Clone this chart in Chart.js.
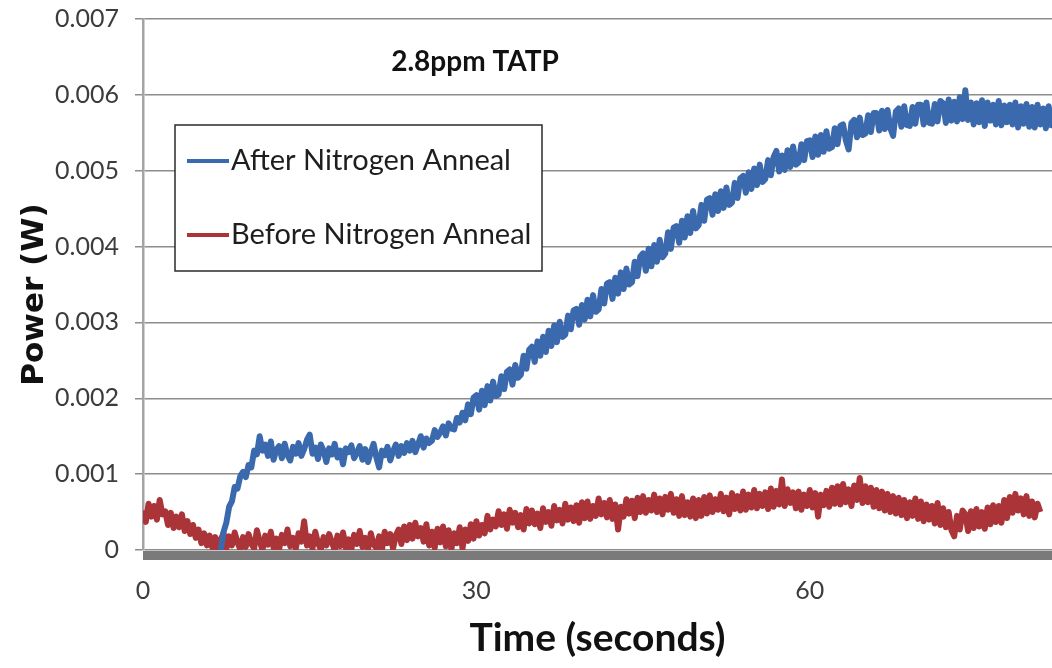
<!DOCTYPE html>
<html>
<head>
<meta charset="utf-8">
<title>2.8ppm TATP</title>
<script src="https://cdn.jsdelivr.net/npm/chart.js@4.4.0/dist/chart.umd.min.js"></script>
<style>
  html, body { margin: 0; padding: 0; background: #fff; }
</style>
</head>
<body>
<canvas id="powerChart" width="1052" height="668"></canvas>
<script>
// detector sample clock (seconds)
const sampleStep = 0.25;
const afterStart = 7.0;
const beforeStart = 0.0;

const seriesLabels = ['After Nitrogen Anneal', 'Before Nitrogen Anneal'];
const xTicks = [0, 30, 60];
const yTicks = ['0', '0.001', '0.002', '0.003', '0.004', '0.005', '0.006', '0.007'];

// readings in units of 10 µW, one per sampleStep, 4 per row (1 s)
const afterAnneal = [
    0,  24,  36,  57,   64,  83,  81,  97,  103,  96, 112, 109,  131, 126, 150, 131,   // 7 - 10
  139, 124, 143, 119,  132, 137, 121, 140,  125, 118, 136, 127,  141, 124, 133, 145,   // 11 - 14
  152, 127, 135, 120,  139, 131, 116, 134,  126, 140, 122, 131,  113, 134, 129, 138,   // 15 - 18
  121, 128, 137, 119,  133, 116, 129, 140,  122, 109, 131, 125,  136, 118, 130, 139,   // 19 - 22
  124, 137, 128, 141,  131, 144, 129, 139,  150, 135, 147, 141,  144, 158, 149, 155,   // 23 - 26
  163, 151, 167, 160,  159, 174, 168, 181,  171, 192, 179, 201,  204, 185, 210, 191,   // 27 - 30
  216, 197, 222, 203,  205, 229, 212, 235,  238, 218, 244, 227,  231, 256, 239, 264,   // 31 - 34
  268, 248, 275, 256,  281, 261, 289, 269,  296, 274, 301, 281,  284, 309, 291, 316,   // 35 - 38
  318, 297, 323, 304,  330, 308, 336, 314,  317, 344, 325, 351,  353, 331, 359, 338,   // 39 - 42
  366, 344, 371, 350,  353, 380, 361, 387,  391, 368, 397, 374,  402, 380, 409, 386,   // 43 - 46
  391, 419, 397, 425,  427, 405, 434, 412,  440, 418, 447, 424,  428, 455, 434, 462,   // 47 - 50
  464, 442, 469, 447,  473, 451, 478, 455,  458, 484, 464, 490,  493, 471, 498, 476,   // 51 - 54
  503, 481, 508, 485,  489, 514, 494, 518,  526, 499, 520, 501,  527, 505, 532, 508,   // 55 - 58
  511, 535, 514, 539,  540, 518, 545, 521,  547, 525, 552, 529,  531, 556, 535, 559,   // 59 - 62
  561, 540, 528, 563,  567, 544, 570, 547,  549, 573, 551, 576,  576, 553, 579, 555,   // 63 - 66
  580, 556, 546, 578,  582, 558, 585, 560,  559, 584, 562, 587,  587, 561, 590, 563,   // 67 - 70
  562, 588, 565, 592,  589, 563, 594, 566,  591, 565, 597, 568,  606, 567, 590, 561,   // 71 - 74
  589, 564, 593, 559,  590, 566, 587, 561,  592, 560, 586, 564,  587, 561, 590, 557,   // 75 - 78
  585, 562, 588, 558,  584, 557, 587, 561,  582, 556, 585, 560,  581                   // 79 - 82
];

const beforeAnneal = [
  52, 37, 61, 44,  58, 40, 66, 47,  51, 33, 49, 29,  44, 30, 47, 25,   // 0 - 3
  38, 21, 33, 16,  27,  9, 22,  6,  19,  3, 17,  1,  14, 22,  2, 18,   // 4 - 7
   6, 23, 10,  1,  17,  4, 21,  8,   2, 26, 12,  0,  19,  7, 24,  3,   // 8 - 11
  15,  1, 20,  9,  27,  5, 16,  2,  22, 11, 38,  6,  18,  2, 24,  9,   // 12 - 15
   1, 17,  6, 21,  10,  0, 19,  5,  23,  3, 14,  1,  20,  8, 25,  4,   // 16 - 19
  16,  1, 22,  7,   3, 18,  0, 24,   9, 21,  2, 19,  27,  8, 31, 13,   // 20 - 23
  33, 15, 36, 18,  29, 11, 34,  6,  24,  3, 28, 10,  31,  5, 26,  1,   // 24 - 27
  22,  9, 30,  2,  27, 12, 34, 15,  38, 19, 33, 22,  45, 27, 40, 31,   // 28 - 31
  51, 33, 47, 28,  53, 36, 49, 30,  46, 27, 54, 35,  52, 34, 48, 29,   // 32 - 35
  55, 37, 50, 32,  58, 39, 53, 35,  61, 40, 56, 38,  59, 36, 63, 42,   // 36 - 39
  64, 41, 58, 45,  68, 47, 62, 43,  66, 41, 60, 27,  57, 44, 67, 48,   // 40 - 43
  65, 42, 69, 50,  71, 49, 66, 52,  73, 50, 68, 47,  70, 53, 74, 49,   // 44 - 47
  67, 45, 71, 46,  63, 44, 68, 42,  66, 45, 70, 48,  72, 50, 67, 53,   // 48 - 51
  74, 51, 69, 47,  75, 54, 71, 52,  77, 53, 73, 56,  79, 55, 74, 58,   // 52 - 55
  76, 54, 81, 57,  78, 60, 93, 58,  80, 62, 76, 55,  77, 53, 73, 58,   // 56 - 59
  79, 56, 75, 44,  73, 59, 78, 57,  82, 61, 84, 60,  87, 63, 80, 58,   // 60 - 63
  85, 66, 95, 62,  84, 63, 82, 57,  79, 55, 77, 52,  74, 50, 71, 48,   // 64 - 67
  69, 46, 66, 42,  63, 45, 68, 41,  64, 38, 60, 40,  58, 35, 62, 33,   // 68 - 71
  55, 30, 50, 26,  18, 45, 27, 52,  47, 25, 51, 29,  54, 31, 50, 28,   // 72 - 75
  56, 34, 59, 37,  58, 36, 66, 42,  70, 49, 74, 52,  68, 47, 71, 45,   // 76 - 79
  64, 43, 61, 50                                                        // 80
];

const blue = '#3b69ad';
const red = '#aa3438';

// 10 µW units -> W, placed on the sample clock
function toPoints(values, start) {
  return values.map((v, i) => ({ x: start + i * sampleStep, y: v * 1e-5 }));
}

Chart.defaults.font.family = 'Lato';
Chart.defaults.color = '#3c3c3c';

// heading, boxed legend, vertical axis title and the grey floor under zero
const decorations = {
  id: 'decorations',
  afterDatasetsDraw(chart) {
    const { ctx, chartArea, scales } = chart;
    const y0 = scales.y.getPixelForValue(0);

    ctx.save();
    ctx.fillStyle = '#7a7a7a';
    ctx.fillRect(chartArea.left, y0 + 1, chartArea.right - chartArea.left, 9);

    ctx.fillStyle = '#111';
    ctx.font = 'bold 28px Lato';
    ctx.textAlign = 'center';
    ctx.textBaseline = 'middle';
    ctx.fillText('2.8ppm TATP', chartArea.left + 332, 62);

    // y axis title
    ctx.save();
    ctx.translate(35, (chartArea.top + chartArea.bottom) / 2 + 10);
    ctx.rotate(-Math.PI / 2);
    ctx.font = 'bold 31px "DejaVu Sans"';
    ctx.fillText('Power (W)', 0, 0);
    ctx.restore();

    // legend box
    const bx = chartArea.left + 32, by = chartArea.top + 106;
    const bw = 367, bh = 146;
    ctx.fillStyle = '#fff';
    ctx.fillRect(bx, by, bw, bh);
    ctx.strokeStyle = '#2a2a2a';
    ctx.lineWidth = 1.5;
    ctx.strokeRect(bx, by, bw, bh);

    ctx.font = '29px Lato';
    ctx.textAlign = 'left';
    chart.data.datasets.forEach((ds, i) => {
      const ly = by + 36 + i * 74;
      ctx.strokeStyle = ds.borderColor;
      ctx.lineWidth = 4;
      ctx.beginPath();
      ctx.moveTo(bx + 12, ly);
      ctx.lineTo(bx + 54, ly);
      ctx.stroke();
      ctx.fillStyle = '#1e1e1e';
      ctx.fillText(ds.label, bx + 56, ly);
    });
    ctx.restore();
  }
};

new Chart(document.getElementById('powerChart'), {
  type: 'line',
  data: {
    datasets: [{
      label: seriesLabels[0],
      data: toPoints(afterAnneal, afterStart),
      borderColor: blue,
      borderWidth: 6,
      borderJoinStyle: 'round',
      pointRadius: 0,
      tension: 0
    }, {
      label: seriesLabels[1],
      data: toPoints(beforeAnneal, beforeStart),
      borderColor: red,
      borderWidth: 6,
      borderJoinStyle: 'round',
      pointRadius: 0,
      tension: 0
    }]
  },
  options: {
    responsive: false,
    animation: false,
    layout: { padding: { top: 19, right: 0, left: 0, bottom: 0 } },
    plugins: {
      legend: { display: false },
      tooltip: { enabled: false }
    },
    scales: {
      x: {
        type: 'linear',
        min: 0,
        max: 81.8,
        afterFit: (scale) => {
          scale.height = 118;
          scale.paddingLeft = 0;
          scale.paddingRight = 0;
        },
        afterBuildTicks: (scale) => { scale.ticks = xTicks.map(v => ({ value: v })); },
        grid: { display: false, drawTicks: false },
        border: { display: false },
        ticks: {
          padding: 26,
          color: '#3c3c3c',
          font: { size: 25 }
        },
        title: {
          display: true,
          text: 'Time (seconds)',
          color: '#111',
          font: { size: 39, weight: 'bold' },
          padding: { top: 0, bottom: 6 }
        }
      },
      y: {
        min: 0,
        max: 0.007,
        afterFit: (scale) => {
          scale.width = 143;
          scale.paddingTop = 0;
          scale.paddingBottom = 0;
        },
        afterBuildTicks: (scale) => { scale.ticks = yTicks.map(t => ({ value: Number(t) })); },
        grid: { color: '#8c8c8c', lineWidth: 1.5, tickLength: 8 },
        border: { color: '#a4a4a4', width: 2.5 },
        ticks: {
          padding: 16,
          color: '#3c3c3c',
          font: { size: 25 },
          callback: (value, i) => yTicks[i]
        },
        title: { display: false }
      }
    }
  },
  plugins: [decorations]
});
</script>
</body>
</html>
